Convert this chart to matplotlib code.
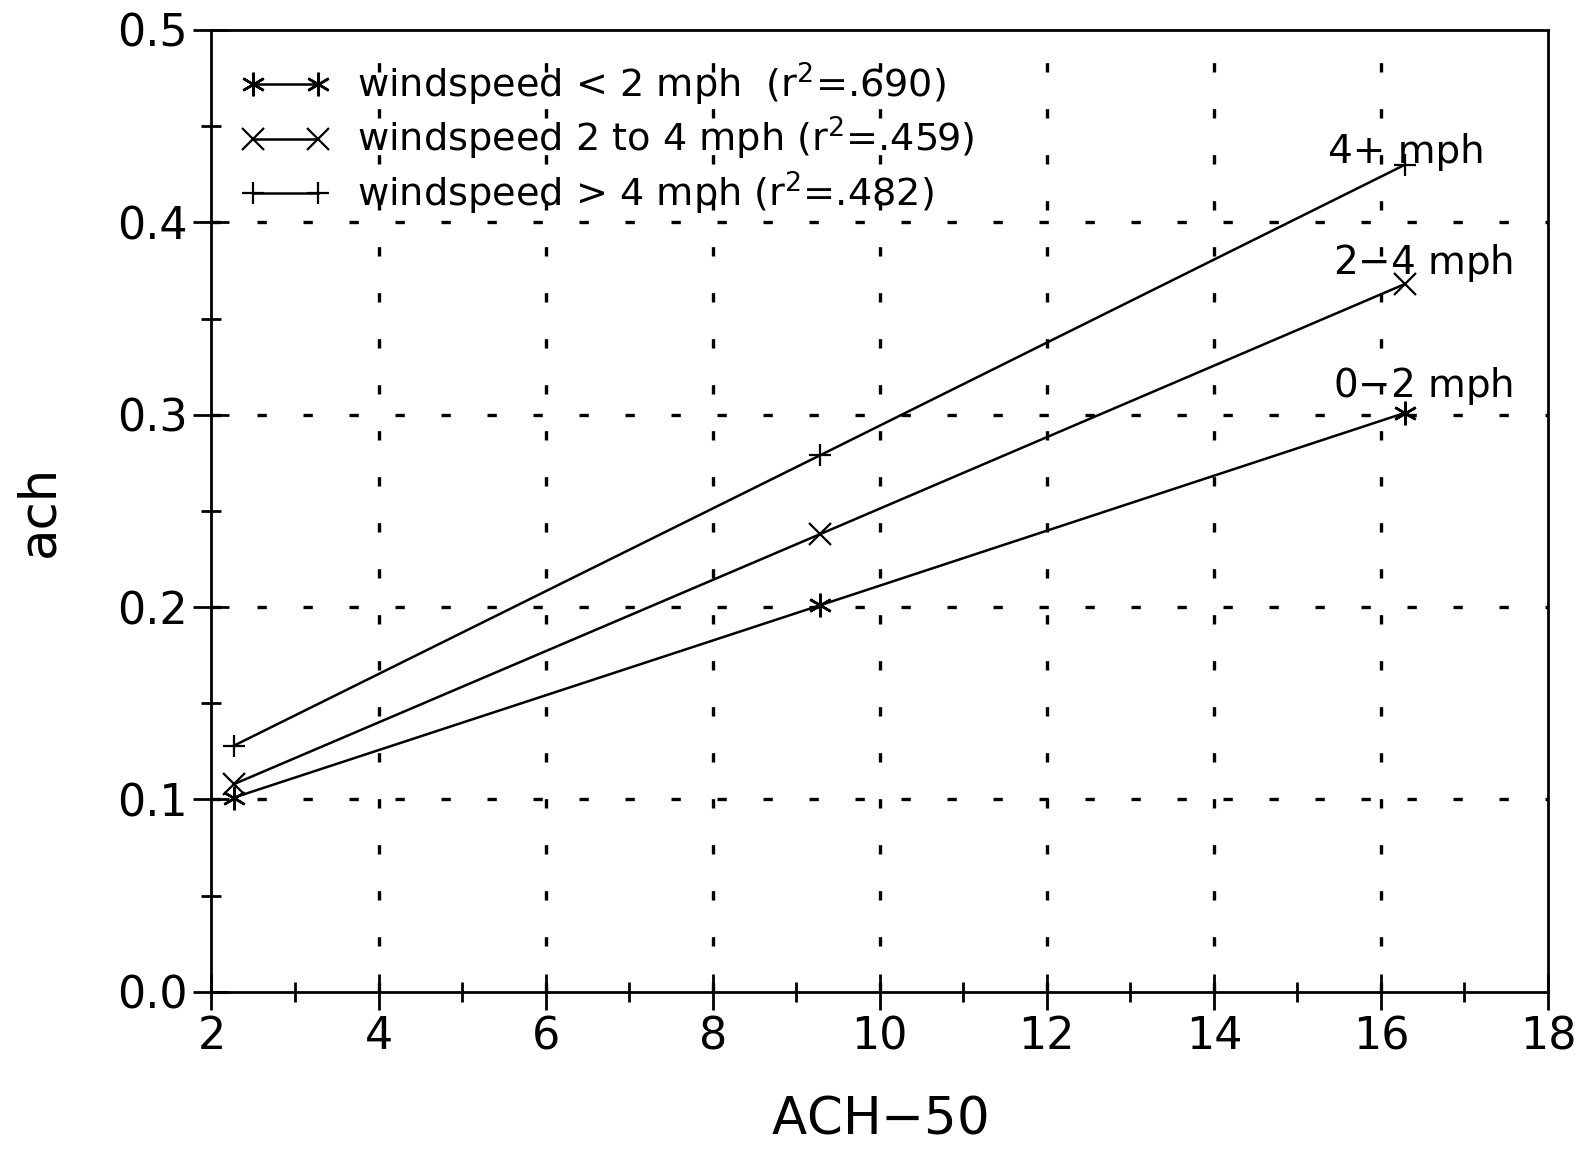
import numpy as np
import matplotlib
matplotlib.use('Agg')
import matplotlib.pyplot as plt
from matplotlib.ticker import MultipleLocator

plt.rc('font', family='DejaVu Sans')

# Regression lines of natural ach against ACH-50, by wind speed class
ach50 = [2.27, 9.29, 16.29]
ach_low = [0.101, 0.201, 0.301]
ach_mid = [0.108, 0.238, 0.368]
ach_high = [0.128, 0.279, 0.430]

labels = ['windspeed < 2 mph  (r$^2$=.690)',
          'windspeed 2 to 4 mph (r$^2$=.459)',
          'windspeed > 4 mph (r$^2$=.482)']
end_labels = ['0$-$2 mph', '2$-$4 mph', '4+ mph']

fig = plt.figure(figsize=(15.78, 11.52), dpi=100)
ax = fig.add_axes([0.134, 0.139, 0.847, 0.835])

asterisk = (6, 2, 0)
ax.plot(ach50, ach_low, '-k', lw=1.8, marker=asterisk, ms=17, mew=1.8, label=labels[0])
ax.plot(ach50, ach_mid, '-k', lw=1.8, marker='x', ms=16, mew=1.6, label=labels[1])
ax.plot(ach50, ach_high, '-k', lw=1.8, marker='+', ms=16, mew=1.6, label=labels[2])

# labels at the right end of each line
ax.text(15.43, 0.309, end_labels[0], fontsize=28, ha='left', va='baseline')
ax.text(15.43, 0.373, end_labels[1], fontsize=28, ha='left', va='baseline')
ax.text(15.37, 0.431, end_labels[2], fontsize=28, ha='left', va='baseline')

ax.set_xlim(2, 18)
ax.set_ylim(0, 0.5)
ax.xaxis.set_major_locator(MultipleLocator(2))
ax.xaxis.set_minor_locator(MultipleLocator(1))
ax.yaxis.set_major_locator(MultipleLocator(0.1))
ax.yaxis.set_minor_locator(MultipleLocator(0.05))
ax.yaxis.set_major_formatter(matplotlib.ticker.FormatStrFormatter('%.1f'))

ax.tick_params(which='major', direction='inout', length=26, width=2, labelsize=32, pad=4)
ax.tick_params(which='minor', direction='inout', length=14, width=2)
for s in ax.spines.values():
    s.set_linewidth(2)

# dotted grid at the inner major ticks only
for xg in [4, 6, 8, 10, 12, 14, 16]:
    ax.axvline(xg, color='k', lw=2.4, dashes=(2.8, 11), zorder=0)
for yg in [0.1, 0.2, 0.3, 0.4]:
    ax.axhline(yg, color='k', lw=2.4, dashes=(2.8, 11), zorder=0)

ax.set_xlabel('ACH$-$50', fontsize=37, labelpad=26)
ax.set_ylabel('ach', fontsize=37, labelpad=38)

ax.legend(loc='upper left', frameon=False, fontsize=27.5, numpoints=2,
          handlelength=2.3, handletextpad=0.7, labelspacing=0.2,
          borderaxespad=0.3, borderpad=0.5)

fig.savefig('out.png', dpi=100)
